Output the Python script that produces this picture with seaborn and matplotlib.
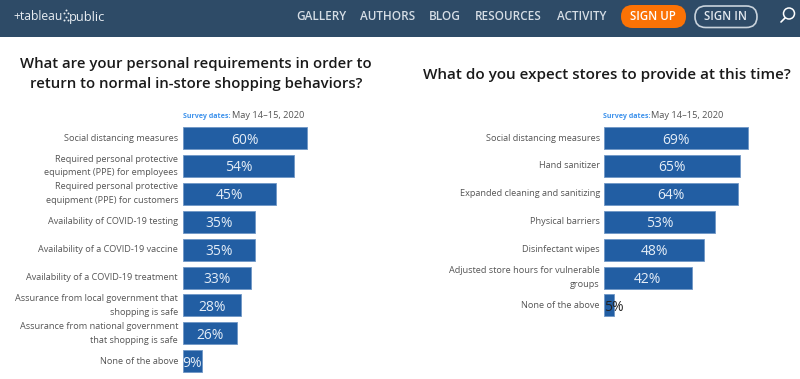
import pandas as pd
import seaborn as sns
import matplotlib
matplotlib.use("Agg")
import matplotlib.pyplot as plt
from matplotlib.patches import FancyBboxPatch, Rectangle, Circle

W, H = 800, 379

# datos
left_labels = ["Social distancing measures",
               "Required personal protective\nequipment (PPE) for employees",
               "Required personal protective\nequipment (PPE) for customers",
               "Availability of COVID-19 testing",
               "Availability of a COVID-19 vaccine",
               "Availability of a COVID-19 treatment",
               "Assurance from local government that\nshopping is safe",
               "Assurance from national government\nthat shopping is safe",
               "None of the above"]
left_values = [60, 54, 45, 35, 35, 33, 28, 26, 9]

right_labels = ["Social distancing measures",
                "Hand sanitizer",
                "Expanded cleaning and sanitizing",
                "Physical barriers",
                "Disinfectant wipes",
                "Adjusted store hours for vulnerable\ngroups",
                "None of the above"]
right_values = [69, 65, 64, 53, 48, 42, 5]

left_title = "What are your personal requirements in order to\nreturn to normal in-store shopping behaviors?"
right_title = "What do you expect stores to provide at this time?"
nav_items = ["GALLERY", "AUTHORS", "BLOG", "RESOURCES", "ACTIVITY"]
nav_x = [321, 388, 445, 508, 582]

sns.set_theme(style="white")
plt.rcParams["font.family"] = ["Open Sans", "DejaVu Sans"]

BAR = "#225ea3"
NAV = "#2e4b67"
fig = plt.figure(figsize=(W / 100, H / 100), dpi=100, facecolor="white")


def fx(x):
    return x / W


def fy(y):
    return 1 - y / H


def panel(labels, values, x0, x1, scale, top, pad):
    # ejes colocados en pixeles
    pitch = 27.9
    h = pitch * len(labels)
    ax = fig.add_axes([fx(x0), fy(top + h), (x1 - x0) / W, h / H])
    df = pd.DataFrame({"label": labels, "value": values})
    sns.barplot(data=df, y="label", x="value", color=BAR, saturation=1, width=0.79,
                edgecolor="#6f97c6", linewidth=0.6, ax=ax)
    ax.set_xlim(0, (x1 - x0) / scale)
    ax.set_ylim(len(labels) - 0.5, -0.5)
    ax.set_xlabel("")
    ax.set_ylabel("")
    ax.set_xticks([])
    ax.tick_params(axis="y", length=0, pad=pad, labelsize=6.55, labelcolor="#555555")
    for t in ax.get_yticklabels():
        t.set_linespacing(1.7)
        t.set_verticalalignment("center")
    sns.despine(ax=ax, left=True, bottom=True)
    for i, v in enumerate(values):
        if v < 6:
            ax.text(0, i, f"{v}%", ha="left", va="center_baseline", fontsize=10, color="#222222")
        else:
            ax.text(v / 2, i, f"{v}%", ha="center", va="center_baseline", fontsize=10, color="#e4edf7")
    return ax


panel(left_labels, left_values, 183, 330, 2.06, 124.1, 3.6)
panel(right_labels, right_values, 604, 760, 2.09, 124.1, 3)

# barra de navegacion
fig.add_artist(Rectangle((0, fy(36.5)), 1, 36.5 / H, transform=fig.transFigure, color=NAV, lw=0, zorder=-1))
fig.text(fx(13), fy(17), "+tableau", color="#e8edf2", fontsize=8.7, va="center", ha="left")
fig.text(fx(69), fy(17), "public", color="#e8edf2", fontsize=9.3, va="center", ha="left")
for name, x in zip(nav_items, nav_x):
    fig.text(fx(x), fy(16), name, color="#d5dde5", fontsize=8.5, va="center", ha="center", weight="semibold")

overlay = fig.add_axes([0, 0, 1, 1], facecolor="none")
overlay.set_xlim(0, W)
overlay.set_ylim(H, 0)
overlay.axis("off")
overlay.scatter([66, 64, 68, 66, 64, 68], [10, 13, 13, 17, 20, 20], s=2, color="#e8edf2", lw=0)
overlay.add_patch(FancyBboxPatch((621, 5), 65, 23, boxstyle="round,pad=0,rounding_size=11.5",
                                 fc="#fb7205", ec="none"))
overlay.add_patch(FancyBboxPatch((695, 6), 62, 21.5, boxstyle="round,pad=0,rounding_size=10.7",
                                 fc="none", ec="#c9d3dc", lw=1.2))
overlay.text(653, 16.5, "SIGN UP", color="white", fontsize=8.3, ha="center", va="center", weight="semibold")
overlay.text(726, 16.5, "SIGN IN", color="#e2e8ee", fontsize=8.3, ha="center", va="center", weight="semibold")
overlay.add_patch(Circle((789, 13.5), 5.5, fc="none", ec="white", lw=1.1))
overlay.plot([785, 781], [18, 22], color="white", lw=1.2)

# titulos
fig.text(fx(196), fy(74), left_title, ha="center", va="center", fontsize=10.7, weight="semibold",
         color="#1a1a1a", linespacing=1.5)
fig.text(fx(607), fy(75), right_title, ha="center", va="center", fontsize=11, weight="semibold",
         color="#1a1a1a")

# fechas
for x_a, x_b in [(183, 232), (603, 651)]:
    fig.text(fx(x_a), fy(116), "Survey dates:", color="#3f93ec", fontsize=5.1, va="center", weight="bold")
    fig.text(fx(x_b), fy(116), "May 14\u201315, 2020", color="#555555", fontsize=6.7, va="center")

fig.savefig("out.png", dpi=100)
